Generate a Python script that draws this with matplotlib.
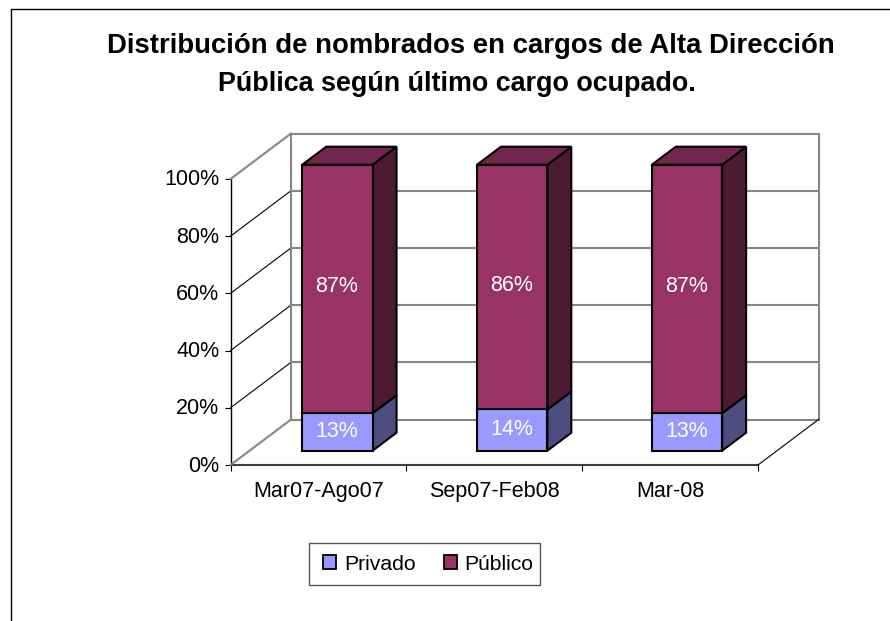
import matplotlib

matplotlib.use("Agg")
import matplotlib.pyplot as plt
from matplotlib.patches import Patch, Polygon, Rectangle
from matplotlib.transforms import Affine2D

categories = ["Mar07-Ago07", "Sep07-Feb08", "Mar-08"]
privado = [13.1, 14.4, 13.1]
publico = [86.9, 85.6, 86.9]
y_ticks = [0, 20, 40, 60, 80, 100]

W, H = 890, 621
DEPTH_X, DEPTH_Y = 60.5, 45.5
BAR_WIDTH = 0.4
BAR_STEP = 0.994
BAR_NEAR, BAR_FAR = 0.315, 0.71
PRIVADO = "#9999FF"
PUBLICO = "#993366"

plt.rcParams["font.family"] = ["Liberation Sans", "DejaVu Sans"]
fig = plt.figure(figsize=(W / 100, H / 100), dpi=100)

# front plane of the box, depth is added as a pixel shift
ax = fig.add_axes([230.5 / W, (H - 465) / H, 527.5 / W, 286 / H])
ax.set_xlim(0, 3)
ax.set_ylim(0, 100)
ax.patch.set_visible(False)


def shifted(depth):
    return ax.transData + Affine2D().translate(depth * DEPTH_X, depth * DEPTH_Y)


def line(x0, y0, d0, x1, y1, d1, color, lw, zorder=1):
    # both ends may sit at a different depth, so go through display coords
    p0 = shifted(d0).transform((x0, y0))
    p1 = shifted(d1).transform((x1, y1))
    fig.add_artist(plt.Line2D([p0[0] / W, p1[0] / W], [p0[1] / H, p1[1] / H], color=color, lw=lw, zorder=zorder))


def face(points, color, zorder):
    # points are (x, value, depth)
    verts = [shifted(d).transform((x, y)) for x, y, d in points]
    fig.add_artist(
        Polygon(
            [(v[0] / W, v[1] / H) for v in verts],
            closed=True,
            facecolor=color,
            edgecolor="black",
            lw=1.5,
            joinstyle="miter",
            transform=fig.transFigure,
            zorder=zorder,
        )
    )


def shade(color, amount):
    rgb = matplotlib.colors.to_rgb(color)
    return tuple(c * amount for c in rgb)


# walls and floor
for v in y_ticks:
    color = "#868686"
    line(0, v, 1, 3, v, 1, color, 1.5)
    if v in (0, 100):
        line(0, v, 0, 0, v, 1, color, 1.5)
    else:
        line(0, v, 0, 0, v, 1, "black", 0.8)
line(0, 0, 1, 0, 100, 1, "#868686", 1.5)
line(3, 0, 1, 3, 100, 1, "#868686", 1.5)
line(3, 0, 0, 3, 0, 1, "black", 0.8)

# bars, one stack per category
for i, (low, high) in enumerate(zip(privado, publico)):
    center = 0.5 + i * BAR_STEP
    left = center - BAR_WIDTH / 2
    right = center + BAR_WIDTH / 2
    bottom = 0
    for value, color, nudge in ((low, PRIVADO, 0.1), (high, PUBLICO, 0.7)):
        top = bottom + value
        face([(right, bottom, BAR_NEAR), (right, bottom, BAR_FAR), (right, top, BAR_FAR), (right, top, BAR_NEAR)],
             shade(color, 0.5), 3)
        face([(left, bottom, BAR_NEAR), (right, bottom, BAR_NEAR), (right, top, BAR_NEAR), (left, top, BAR_NEAR)],
             color, 3)
        label = fig.text(
            0, 0, f"{value:.0f}%", color="white", fontsize=15.5, ha="center", va="center",
            transform=shifted(BAR_NEAR), zorder=5,
        )
        label.set_position((center - 0.003, bottom + value / 2 + nudge))
        bottom = top
    face([(left, bottom, BAR_NEAR), (right, bottom, BAR_NEAR), (right, bottom, BAR_FAR), (left, bottom, BAR_FAR)],
         shade(PUBLICO, 0.75), 3)

# axes on the front plane
for side in ("top", "right"):
    ax.spines[side].set_visible(False)
ax.spines["left"].set_linewidth(1.0)
ax.spines["left"].set_color("black")
ax.spines["bottom"].set_linewidth(1.5)
ax.spines["bottom"].set_color("#404040")
ax.set_yticks(y_ticks, [f"{v}%" for v in y_ticks])
ax.set_xticks([0, 1, 2, 3], [])
ax.set_xticks([0.5, 1.5, 2.5], categories, minor=True)
ax.tick_params(axis="y", length=4.5, width=0.8, labelsize=15.5, pad=3.5)
ax.tick_params(axis="x", which="major", length=4.5, width=0.8)
ax.tick_params(axis="x", which="minor", length=0, labelsize=15.5, pad=11.5)
for tick_label in ax.get_yticklabels():
    tick_label.set_transform(tick_label.get_transform() + Affine2D().translate(0, 1.5))

fig.text(471 / W, (H - 46) / H, "Distribución de nombrados en cargos de Alta Dirección",
         fontsize=19.8, fontweight="bold", ha="center", va="center")
fig.text(457 / W, (H - 84) / H, "Pública según último cargo ocupado.",
         fontsize=19.4, fontweight="bold", ha="center", va="center")

# legend frame is drawn apart, the entries sit off-centre inside it
fig.add_artist(Rectangle((308.5 / W, (H - 585) / H), 231.5 / W, 42 / H, facecolor="white", edgecolor="#555555",
                         lw=1.0, transform=fig.transFigure, zorder=2))
handles = [
    Patch(facecolor=PRIVADO, edgecolor="black", lw=1.3, label="Privado"),
    Patch(facecolor=PUBLICO, edgecolor="black", lw=1.3, label="Público"),
]
legend = fig.legend(
    handles=handles, ncol=2, loc="center", bbox_to_anchor=(428.5 / W, (H - 564) / H), fontsize=15.2,
    frameon=False, handlelength=0.62, handleheight=0.62, handletextpad=0.38, columnspacing=1.3,
    borderpad=0, borderaxespad=0,
)
legend.set_zorder(6)

# outer chart frame, open to the right and bottom of the crop
fig.add_artist(plt.Line2D([10.5 / W, 10.5 / W, 1], [0, (H - 9) / H, (H - 9) / H], color="black", lw=1.0))

fig.savefig("out.png", dpi=100)
plt.close(fig)
